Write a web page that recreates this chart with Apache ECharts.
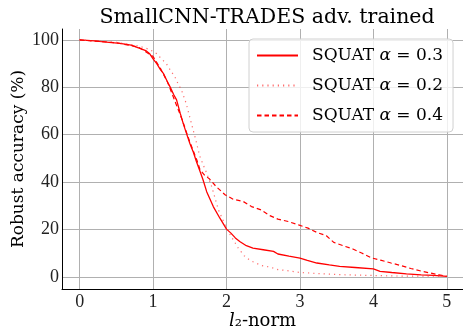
<!DOCTYPE html>
<html><head><meta charset="utf-8">
<script src="https://cdn.jsdelivr.net/npm/echarts@6/dist/echarts.min.js"></script>
<style>html,body{margin:0;padding:0;background:#fff}#c{width:463px;height:330px}</style>
</head><body><div id="c"></div>
<script>
// Data
const xTicks = [0, 1, 2, 3, 4, 5];
const yTicks = [0, 20, 40, 60, 80, 100];

const a03_x = [0, 0.2, 0.4, 0.55, 0.7, 0.82, 0.9, 0.95, 1.0, 1.05, 1.1, 1.14, 1.2, 1.23, 1.28, 1.32, 1.37, 1.41, 1.45, 1.5, 1.55, 1.59, 1.64, 1.68, 1.73, 1.82, 1.91, 2.0, 2.06, 2.12, 2.18, 2.27, 2.36, 2.5, 2.64, 2.7, 2.85, 3.0, 3.1, 3.23, 3.4, 3.54, 3.75, 4.0, 4.09, 4.25, 4.45, 4.65, 4.82, 5.0];
const a03_y = [100, 99.6, 99.0, 98.5, 97.8, 96.4, 95.5, 94.3, 92, 90, 87.5, 85.9, 82, 80.3, 77, 74.7, 69, 64.8, 61, 56.4, 52.5, 48.7, 44.5, 41, 36, 29.7, 24.8, 20.2, 18.5, 16.5, 15, 13.2, 12.2, 11.5, 10.8, 9.7, 8.8, 8.0, 7.0, 5.9, 5.1, 4.5, 4.0, 3.4, 2.4, 1.9, 1.3, 0.9, 0.7, 0.3];

const a02_x = [0, 0.5, 0.8, 0.95, 1.045, 1.1, 1.18, 1.24, 1.295, 1.34, 1.386, 1.45, 1.51, 1.57, 1.636, 1.68, 1.73, 1.8, 1.89, 2.0, 2.07, 2.16, 2.24, 2.32, 2.48, 2.59, 2.7, 2.8, 3.0, 3.23, 3.54, 3.9, 4.36, 5.0];
const a02_y = [100, 99, 97.5, 96, 94.3, 92.5, 90, 87, 84.5, 81.5, 78.9, 73.3, 66.2, 59.2, 51, 47.5, 43.8, 38, 28.3, 20.6, 16.8, 12.2, 9, 7, 4.8, 4.2, 3.1, 2.8, 1.9, 1.5, 1.0, 0.7, 0.4, 0.3];

const a04_x = [0, 0.5, 0.8, 1.0, 1.1, 1.2, 1.3, 1.4, 1.5, 1.6, 1.64, 1.7, 1.77, 1.86, 1.98, 2.09, 2.23, 2.34, 2.47, 2.59, 2.7, 2.84, 2.98, 3.11, 3.23, 3.36, 3.46, 3.59, 3.72, 3.84, 3.98, 4.11, 4.24, 4.38, 4.51, 4.65, 4.77, 4.9, 5.0];
const a04_y = [100, 98.8, 97, 93, 88, 82, 74, 66, 57, 49, 45.2, 43, 41.3, 38.1, 34.7, 32.8, 31.8, 29.7, 28.3, 25.9, 24.4, 23.4, 22, 20.6, 18.8, 17.4, 14.6, 13.2, 11.8, 10.1, 8.0, 7.0, 5.9, 4.8, 3.6, 2.5, 1.7, 0.9, 0.3];

const names = ['SQUAT α = 0.3', 'SQUAT α = 0.2', 'SQUAT α = 0.4'];
const legendParts = [['SQUAT ', 'α', ' = 0.3'], ['SQUAT ', 'α', ' = 0.2'], ['SQUAT ', 'α', ' = 0.4']];

const zip = (xs, ys) => xs.map((x, i) => [x, ys[i]]);
const serif = 'DejaVu Serif';
const numFont = 'Liberation Serif';

const chart = echarts.init(document.getElementById('c'), null, {renderer: 'canvas'});
chart.setOption({
  animation: false,
  backgroundColor: '#fff',
  title: {
    text: 'SmallCNN-TRADES adv. trained',
    left: 262, top: 2, textAlign: 'center',
    textStyle: {fontFamily: serif, fontWeight: 'normal', fontSize: 20.5, color: '#000'}
  },
  grid: {left: 62, right: 0, top: 29, bottom: 41, containLabel: false, outerBoundsMode: 'none'},
  xAxis: {
    type: 'value', min: -0.24, max: 5.22,
    name: '{i|l}{n|₂-norm}', nameLocation: 'middle', nameGap: 23, nameMoveOverlap: false,
    nameTextStyle: {rich: {
      i: {fontFamily: serif, fontStyle: 'italic', fontSize: 18, color: '#000'},
      n: {fontFamily: serif, fontSize: 18, color: '#000'}
    }},
    axisLine: {show: true, onZero: false, lineStyle: {color: '#000', width: 1}},
    axisTick: {show: false, customValues: xTicks},
    axisLabel: {customValues: xTicks, margin: 4, fontFamily: numFont, fontSize: 18, color: '#222'},
    splitLine: {show: true, lineStyle: {color: '#b0b0b0', width: 1}}
  },
  yAxis: {
    type: 'value', min: -5.06, max: 104.6,
    name: 'Robust accuracy (%)', nameLocation: 'middle', nameGap: 35, nameRotate: 90, nameMoveOverlap: false,
    nameTextStyle: {fontFamily: serif, fontSize: 17, color: '#000'},
    axisLine: {show: true, onZero: false, lineStyle: {color: '#000', width: 1}},
    axisTick: {show: false, customValues: yTicks},
    axisLabel: {customValues: yTicks, margin: 3, fontFamily: numFont, fontSize: 18, color: '#222'},
    splitLine: {show: true, lineStyle: {color: '#b0b0b0', width: 1}}
  },
  legend: {
    left: 249, top: 39, orient: 'vertical',
    data: names,
    itemWidth: 41, itemHeight: 14, itemGap: 13,
    itemStyle: {opacity: 0, borderWidth: 0},
    padding: [8, 10, 8, 7],
    backgroundColor: 'rgba(255,255,255,0.8)',
    borderColor: '#d0d0d0', borderWidth: 1, borderRadius: 4,
    formatter: function (name) {
      const p = legendParts[names.indexOf(name)];
      return '{n|' + p[0] + '}{a|' + p[1] + '}{n|' + p[2] + '}';
    },
    textStyle: {
      padding: [0, 0, 0, 9],
      rich: {
        n: {fontFamily: serif, fontSize: 17, color: '#000'},
        a: {fontFamily: serif, fontStyle: 'italic', fontSize: 17, color: '#000'}
      }
    }
  },
  series: [
    {name: names[0], type: 'line', data: zip(a03_x, a03_y), symbol: 'none', showSymbol: false,
     lineStyle: {color: '#ff0000', width: 1.3, type: 'solid'}, itemStyle: {color: '#ff0000'}},
    {name: names[1], type: 'line', data: zip(a02_x, a02_y), symbol: 'none', showSymbol: false,
     lineStyle: {color: 'rgba(255,60,60,0.75)', width: 1.2, type: [1.2, 4]}, itemStyle: {color: 'rgba(255,60,60,0.75)'}},
    {name: names[2], type: 'line', data: zip(a04_x, a04_y), symbol: 'none', showSymbol: false,
     lineStyle: {color: '#ff0000', width: 1.2, type: [4.5, 3]}, itemStyle: {color: '#ff0000'}}
  ]
});
</script>
</body></html>
